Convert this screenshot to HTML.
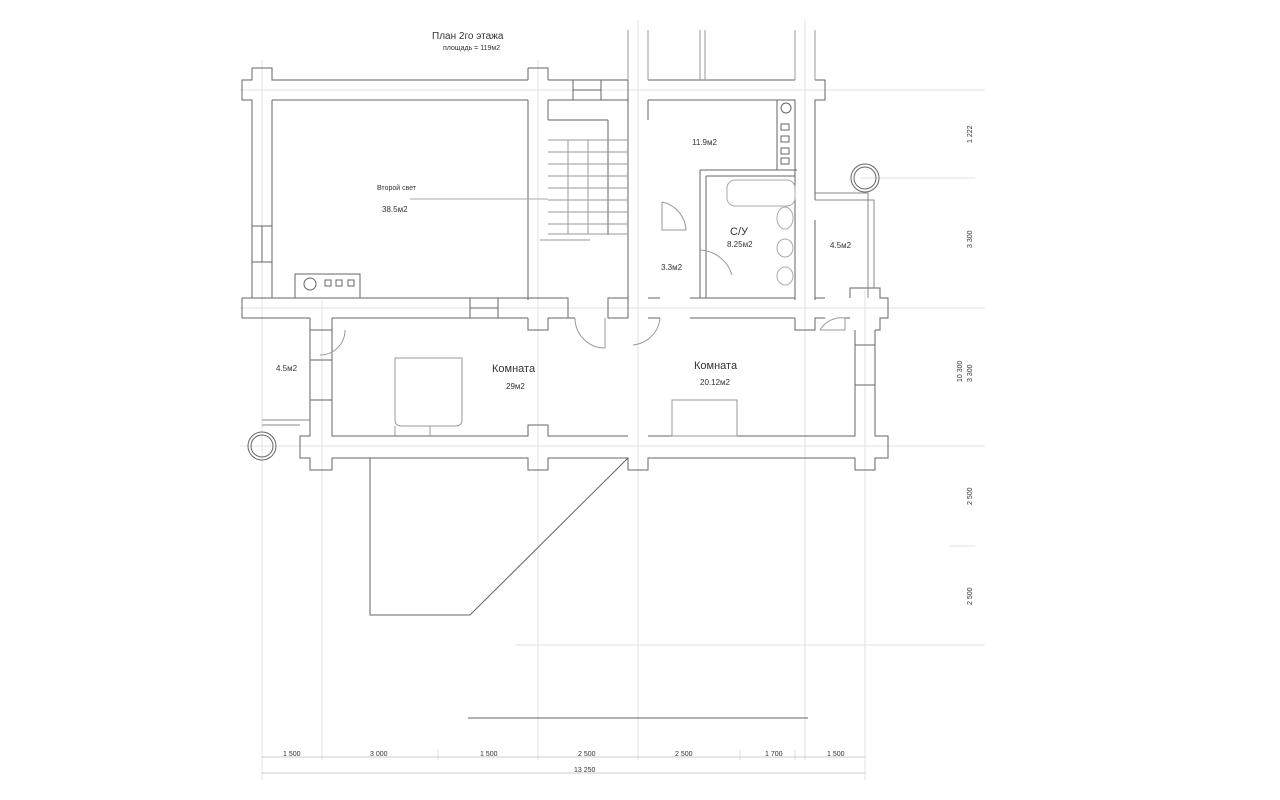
<!DOCTYPE html>
<html><head><meta charset="utf-8"><style>
html,body{margin:0;padding:0;background:#fff;width:1280px;height:800px;overflow:hidden}
svg{display:block}
text{font-family:"Liberation Sans",sans-serif;fill:#333}
</style></head><body>
<svg width="1280" height="800" viewBox="0 0 1280 800">
<g stroke="#e2e2e2" stroke-width="1" fill="none">
<line x1="262" y1="60" x2="262" y2="780"/>
<line x1="322" y1="300" x2="322" y2="760"/>
<line x1="538" y1="60" x2="538" y2="760"/>
<line x1="638" y1="20" x2="638" y2="760"/>
<line x1="805" y1="20" x2="805" y2="760"/>
<line x1="865" y1="290" x2="865" y2="780"/>
<line x1="240" y1="90" x2="985" y2="90"/>
<line x1="240" y1="308" x2="985" y2="308"/>
<line x1="240" y1="446" x2="985" y2="446"/>
<line x1="515" y1="645" x2="985" y2="645"/>
<line x1="860" y1="178" x2="975" y2="178"/>
<line x1="950" y1="546" x2="975" y2="546"/>
<line x1="740" y1="750" x2="740" y2="760"/>
<line x1="438" y1="750" x2="438" y2="760"/>
<line x1="795" y1="750" x2="795" y2="760"/>
</g>
<g stroke="#666" stroke-width="1" fill="none">
<line x1="272" y1="80" x2="528" y2="80"/><line x1="272" y1="100" x2="528" y2="100"/>
<line x1="548" y1="80" x2="628" y2="80"/><line x1="548" y1="100" x2="628" y2="100"/>
<line x1="648" y1="80" x2="795" y2="80"/><line x1="648" y1="100" x2="795" y2="100"/>
<rect x="573" y="80" width="28" height="20"/><line x1="573" y1="90" x2="601" y2="90"/>
<path d="M252 68H272V80H280M252 68V80H242V100H252V120"/>
<path d="M528 68H548V80M528 68V80M528 100V300M548 100V120"/>
<path d="M628 80V300M648 100V120"/>
<path d="M795 80M815 80H825V100H815V200M795 100V300M815 220V300"/>
<g stroke="#999">
<path d="M628 30V80M648 30V80M795 30V80M815 30V80"/>
<line x1="700" y1="30" x2="700" y2="80"/><line x1="705" y1="30" x2="705" y2="80"/>
</g>
<line x1="252" y1="120" x2="252" y2="298"/><line x1="272" y1="100" x2="272" y2="298"/>
<rect x="252" y="226" width="20" height="36"/><line x1="262" y1="226" x2="262" y2="262"/>
<path d="M242 298H470M498 298H548M242 318H310M332 318H528M548 318H575M242 298V318"/>
<rect x="470" y="298" width="28" height="20"/><line x1="470" y1="308" x2="498" y2="308"/>
<path d="M310 318V330H332V318M528 318V330H548V318M548 298H568V318H548"/>
<path d="M608 298H628V318H608ZM648 298H660M648 318H660"/>
<path d="M690 298H795M690 318H795M795 318V330H815V318H825M815 298H825"/>
<path d="M700 170V298M706 176V298M700 170H797M706 176H795"/>
<path d="M850 298V288H880V298H888V318H880V330H875M850 318H845"/>
<path d="M310 330V400H332V330M310 360H332M310 400H332M310 400V436H300V458H310V470H332V458H528V470H548V458H628V470H648V458H855V470H875V458H888V436H875V330M855 330V436H648M628 436H548V425H528V436H332V400"/>
<path d="M855 340V436M875 340V436M855 345H875M855 385H875"/>
<line x1="548" y1="120" x2="608" y2="120"/><line x1="608" y1="120" x2="608" y2="235"/>
<g stroke="#999">
<line x1="548" y1="140" x2="628" y2="140"/><line x1="548" y1="152" x2="628" y2="152"/><line x1="548" y1="164" x2="628" y2="164"/><line x1="548" y1="176" x2="628" y2="176"/><line x1="548" y1="188" x2="628" y2="188"/><line x1="548" y1="200" x2="628" y2="200"/><line x1="548" y1="212" x2="628" y2="212"/><line x1="548" y1="224" x2="628" y2="224"/><line x1="548" y1="234" x2="628" y2="234"/>
<line x1="588" y1="140" x2="588" y2="234"/><line x1="568" y1="140" x2="568" y2="234"/>
<line x1="540" y1="240" x2="590" y2="240"/>
</g>
<line x1="410" y1="199" x2="548" y2="199" stroke="#aaa"/>
<rect x="295" y="274" width="65" height="24"/><circle cx="310" cy="284" r="6"/>
<rect x="325" y="280" width="6" height="6"/><rect x="336" y="280" width="6" height="6"/><rect x="348" y="280" width="6" height="6"/>
<rect x="777" y="100" width="18" height="70"/><circle cx="786" cy="108" r="5"/>
<rect x="781" y="124" width="8" height="6"/><rect x="781" y="136" width="8" height="6"/><rect x="781" y="148" width="8" height="6"/><rect x="781" y="158" width="8" height="6"/>
<rect x="727" y="180" width="68" height="26" rx="8" stroke="#aaa"/>
<ellipse cx="785" cy="218" rx="8" ry="11" stroke="#aaa"/><ellipse cx="785" cy="248" rx="8" ry="9" stroke="#aaa"/><ellipse cx="785" cy="276" rx="8" ry="9" stroke="#aaa"/>
<path d="M662 202V230H686A30 30 0 0 0 662 202" stroke="#999"/>
<path d="M700 250A35 35 0 0 1 732 275" stroke="#999"/>
<path d="M575 318A30 30 0 0 0 605 348V318" stroke="#999"/>
<path d="M660 318A30 30 0 0 1 633 345" stroke="#999"/>
<path d="M820 330H845V318M820 330A25 25 0 0 1 845 318" stroke="#999"/>
<path d="M320 355A25 25 0 0 0 345 330" stroke="#999"/>
<circle cx="865" cy="178" r="14"/><circle cx="865" cy="178" r="11"/>
<path d="M815 193H868V298M815 200H874V288" stroke="#888"/>
<circle cx="262" cy="446" r="14"/><circle cx="262" cy="446" r="11"/>
<path d="M262 420H310M262 425H300" stroke="#888"/>
<path d="M395 358H462V420Q462 426 455 426H402Q395 426 395 420Z" stroke="#999"/>
<line x1="395" y1="426" x2="395" y2="436" stroke="#999"/><line x1="430" y1="426" x2="430" y2="436" stroke="#999"/>
<rect x="672" y="400" width="65" height="36" stroke="#999"/>
<path d="M370 458V615H470L628 458"/>
<line x1="468" y1="718" x2="808" y2="718"/>
<g stroke="#ccc"><line x1="262" y1="757" x2="865" y2="757"/><line x1="262" y1="773" x2="865" y2="773"/></g>
</g>
<g font-size="9" fill="#444">
<text x="432" y="39" font-size="10">План 2го этажа</text>
<text x="443" y="50" font-size="7">площадь = 119м2</text>
<text x="377" y="190" font-size="7">Второй свет</text>
<text x="382" y="212" font-size="8">38.5м2</text>
<text x="692" y="145" font-size="8">11.9м2</text>
<text x="730" y="235" font-size="11">С/У</text>
<text x="727" y="247" font-size="8">8.25м2</text>
<text x="830" y="248" font-size="8">4.5м2</text>
<text x="661" y="270" font-size="8">3.3м2</text>
<text x="492" y="372" font-size="11">Комната</text>
<text x="506" y="389" font-size="8">29м2</text>
<text x="694" y="369" font-size="11">Комната</text>
<text x="700" y="385" font-size="8">20.12м2</text>
<text x="276" y="371" font-size="8">4.5м2</text>
<g font-size="7" fill="#777">
<text x="283" y="756">1 500</text><text x="370" y="756">3 000</text><text x="480" y="756">1 500</text><text x="578" y="756">2 500</text><text x="675" y="756">2 500</text><text x="765" y="756">1 700</text><text x="827" y="756">1 500</text><text x="574" y="772">13 250</text>
<text transform="translate(972,143) rotate(-90)">1 222</text>
<text transform="translate(972,248) rotate(-90)">3 300</text>
<text transform="translate(972,382) rotate(-90)">3 300</text>
<text transform="translate(962,382) rotate(-90)">10 300</text>
<text transform="translate(972,505) rotate(-90)">2 500</text>
<text transform="translate(972,605) rotate(-90)">2 500</text>
</g>
</g>
</svg>
</body></html>
